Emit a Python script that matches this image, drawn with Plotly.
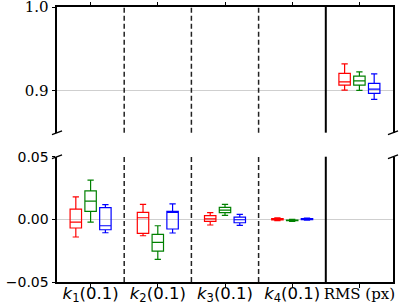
import plotly.graph_objects as go

# ---- data ----
categories = [1, 2, 3, 4]
rms_pos = [5]
tick_vals = [1, 2, 3, 4, 5]
tick_labels = [
    "<span style=\"font-size:16.5px\"><i>k</i><sub>1</sub>(0.1)</span>",
    "<span style=\"font-size:16.5px\"><i>k</i><sub>2</sub>(0.1)</span>",
    "<span style=\"font-size:16.5px\"><i>k</i><sub>3</sub>(0.1)</span>",
    "<span style=\"font-size:16.5px\"><i>k</i><sub>4</sub>(0.1)</span>",
    "<span style=\"font-family:'DejaVu Serif'\">RMS (px)</span>",
]
offsets = [-0.22, 0.0, 0.22]
colors = ["#ff0000", "#008000", "#0000ff"]

# k-parameter boxes (lower fence, q1, median, q3, upper fence) per series
red_k_lo = [-0.0141, -0.0131, -0.0045, -0.0010]
red_k_q1 = [-0.0069, -0.0112, -0.0016, -0.0004]
red_k_med = [-0.0022, 0.0013, 0.0004, 0.0002]
red_k_q3 = [0.0082, 0.0056, 0.0029, 0.0007]
red_k_hi = [0.0180, 0.0120, 0.0053, 0.0012]

green_k_lo = [-0.0022, -0.0319, 0.0032, -0.0016]
green_k_q1 = [0.0064, -0.0253, 0.0053, -0.0011]
green_k_med = [0.0146, -0.0184, 0.0074, -0.0008]
green_k_q3 = [0.0228, -0.0120, 0.0096, -0.0005]
green_k_hi = [0.0313, -0.0051, 0.0120, 0.0000]

blue_k_lo = [-0.0107, -0.0109, -0.0048, -0.0006]
blue_k_q1 = [-0.0083, -0.0077, -0.0027, -0.0002]
blue_k_med = [-0.0051, 0.0058, -0.0003, 0.0002]
blue_k_q3 = [0.0093, 0.0064, 0.0018, 0.0006]
blue_k_hi = [0.0117, 0.0124, 0.0040, 0.0010]

# RMS boxes
red_rms = [0.9008, 0.9068, 0.9107, 0.9207, 0.9321]
green_rms = [0.9005, 0.9068, 0.9119, 0.9175, 0.9226]
blue_rms = [0.8898, 0.8969, 0.9020, 0.9088, 0.9202]

k_series = [
    (red_k_lo, red_k_q1, red_k_med, red_k_q3, red_k_hi),
    (green_k_lo, green_k_q1, green_k_med, green_k_q3, green_k_hi),
    (blue_k_lo, blue_k_q1, blue_k_med, blue_k_q3, blue_k_hi),
]
rms_series = [red_rms, green_rms, blue_rms]

fig = go.Figure()
BW = 0.17
for (lo, q1, med, q3, hi), off, col in zip(k_series, offsets, colors):
    fig.add_trace(go.Box(
        x=[c + off for c in categories], lowerfence=lo, q1=q1, median=med, q3=q3,
        upperfence=hi, width=BW, whiskerwidth=0.55,
        line=dict(color=col, width=1.2), fillcolor="rgba(0,0,0,0)",
        xaxis="x", yaxis="y2", showlegend=False, hoverinfo="skip"))
for vals, off, col in zip(rms_series, offsets, colors):
    lo, q1, med, q3, hi = vals
    fig.add_trace(go.Box(
        x=[p + off for p in rms_pos], lowerfence=[lo], q1=[q1], median=[med],
        q3=[q3], upperfence=[hi], width=BW, whiskerwidth=0.55,
        line=dict(color=col, width=1.2), fillcolor="rgba(0,0,0,0)",
        xaxis="x2", yaxis="y", showlegend=False, hoverinfo="skip"))

shapes = []
# separators in both panels
for xv, dash in [(1.5, "5px,3px"), (2.5, "5px,3px"), (3.5, "5px,3px"), (4.5, "solid")]:
    for yr in ["y domain", "y2 domain"]:
        shapes.append(dict(type="line", xref="x", yref=yr, x0=xv, x1=xv, y0=0, y1=1,
                           line=dict(color="#222222" if dash != "solid" else "black",
                                     width=1.5 if dash != "solid" else 2, dash=dash),
                           layer="above"))
# broken-axis marks
d = 0.015
for yr, yb in [("y domain", 0.0), ("y2 domain", 1.0)]:
    for xb in [0.0, 1.0]:
        shapes.append(dict(type="line", xref="paper", yref=yr, x0=xb - d, x1=xb + d,
                           y0=yb - d, y1=yb + d, line=dict(color="black", width=1.3)))

axis_common = dict(showline=True, linecolor="black", linewidth=2, ticks="outside",
                   tickcolor="black", ticklen=3.5, tickwidth=1, zeroline=False,
                   automargin=False, ticklabeloverflow="allow")

fig.update_layout(
    width=399, height=306,
    margin=dict(l=57, r=6, t=7, b=24, pad=0),
    plot_bgcolor="white", paper_bgcolor="white",
    boxmode="overlay",
    xaxis=dict(axis_common, domain=[0, 1], anchor="y2", range=[0.5, 5.5],
               tickvals=tick_vals, ticktext=tick_labels, showgrid=False,
               ticklabelstandoff=-7,
               tickfont=dict(family="DejaVu Sans", size=15, color="black")),
    xaxis2=dict(axis_common, domain=[0, 1], anchor="y", side="top", range=[0.5, 5.5],
                matches="x", tickvals=tick_vals, showticklabels=False, showgrid=False),
    yaxis=dict(axis_common, domain=[0.543, 1], range=[0.85, 1.0], mirror=True,
               tickvals=[0.9, 1.0], ticktext=["0.9", "1.0"],
               showgrid=True, gridcolor="#cfcfcf", gridwidth=1,
               tickfont=dict(family="DejaVu Serif", size=15, color="black")),
    yaxis2=dict(axis_common, domain=[0, 0.4556], range=[-0.05, 0.05], mirror=True,
                tickvals=[-0.05, 0.0, 0.05], ticktext=["\u22120.05", "0.00", "0.05"],
                showgrid=True, gridcolor="#cfcfcf", gridwidth=1,
                tickfont=dict(family="DejaVu Sans", size=14, color="black")),
    shapes=shapes,
)

fig.write_html("out.html", config={"displayModeBar": False},
               post_script="document.body.style.margin='0';")
